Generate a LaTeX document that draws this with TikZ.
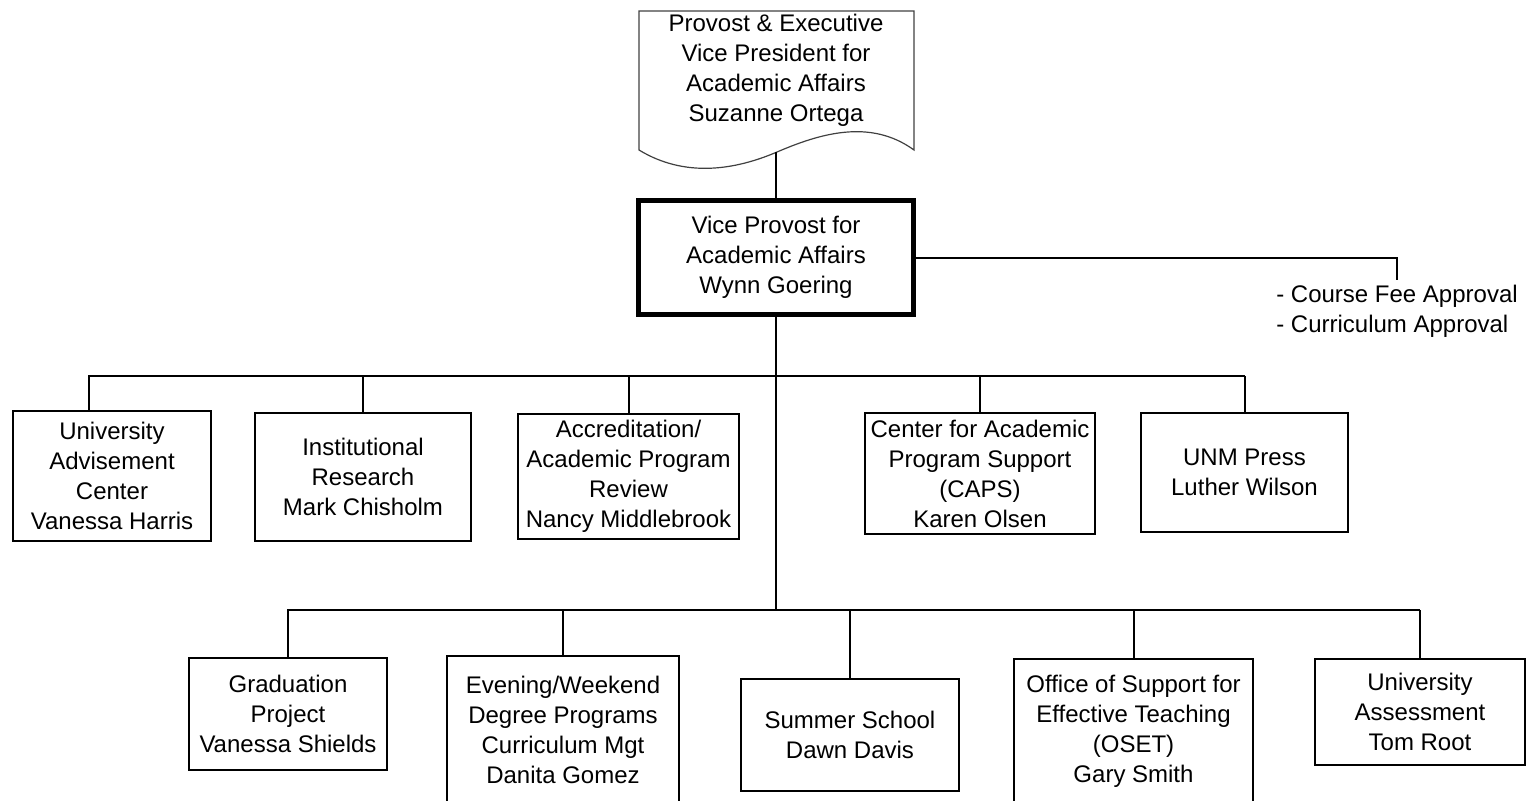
\documentclass[tikz,border=0pt]{standalone}
\usepackage{fontspec}
\setmainfont{Liberation Sans}
\usepackage{tikz}
\usetikzlibrary{positioning,calc}

\begin{document}
\begin{tikzpicture}[
  x=0.5pt,y=-0.5pt,
  unit/.style={draw,line width=1pt,align=center,font=\fontsize{12}{15}\selectfont,inner sep=0pt},
  head/.style={unit,line width=2.5pt},
  note/.style={align=left,font=\fontsize{12}{15}\selectfont,inner sep=2.5pt},
  ln/.style={line width=1pt}
]
\useasboundingbox (0,0) rectangle (1528,800);
\clip (0,0) rectangle (1528,800);
% provost (document shape)
\draw[line width=0.6pt,black!75] (639,150) -- (639,11) -- (914,11) -- (914,150)
  .. controls (870,118) and (819,134) .. (777,152)
  .. controls (735,170) and (685,178) .. (639,150) -- cycle;
\node[unit,draw=none] (prov) at (776,70.5) {Provost \& Executive\\Vice President for\\Academic Affairs\\Suzanne Ortega};
\coordinate (provbot) at (776,152);
\node[head,minimum width=137.5pt,minimum height=57pt] (vpaa) at (776,257.5) {Vice Provost for\\Academic Affairs\\Wynn Goering};
\node[note,anchor=north] (notes) at (1397,280) {- Course Fee Approval\\- Curriculum Approval};
% first row
\node[unit,minimum width=99pt,minimum height=65pt] (uac) at (112,476) {University\\Advisement\\Center\\Vanessa Harris};
\node[unit,minimum width=108pt,minimum height=64pt] (ir) at (363,477) {Institutional\\Research\\Mark Chisholm};
\node[unit,minimum width=110.5pt,minimum height=62.5pt] (acc) at (628.5,476.5) {Accreditation/\\Academic Program\\Review\\Nancy Middlebrook};
\node[unit,minimum width=115pt,minimum height=60.5pt] (caps) at (980,473.5) {Center for Academic\\Program Support\\(CAPS)\\Karen Olsen};
\node[unit,minimum width=103.5pt,minimum height=59.5pt] (unm) at (1244.5,472.5) {UNM Press\\Luther Wilson};
% second row
\node[unit,minimum width=99pt,minimum height=56pt] (grad) at (288,714) {Graduation\\Project\\Vanessa Shields};
\node[unit,minimum width=116pt,minimum height=74pt] (eve) at (563,730) {Evening/Weekend\\Degree Programs\\Curriculum Mgt\\Danita Gomez};
\node[unit,minimum width=109pt,minimum height=56pt] (sum) at (850,735) {Summer School\\Dawn Davis};
\node[unit,minimum width=119.5pt,minimum height=72pt] (oset) at (1133.5,731) {Office of Support for\\Effective Teaching\\(OSET)\\Gary Smith};
\node[unit,minimum width=105pt,minimum height=53pt] (ua) at (1420,712) {University\\Assessment\\Tom Root};
\coordinate (upbus) at (776,376);
\coordinate (lowbus) at (776,610);
% connectors
\draw[ln] (provbot) -- (vpaa.north);
\draw[ln] (vpaa.east) -| (notes.north);
\draw[ln] (vpaa.south) -- (lowbus);
\draw[ln] ([xshift=-11.5pt]uac.north) -- ([xshift=-11.5pt]uac.north |- upbus) -- (unm.north |- upbus);
\foreach \n in {ir,acc,caps,unm} \draw[ln] (\n.north) -- (\n.north |- upbus);
\draw[ln] (grad.north) -- (grad.north |- lowbus) -- (ua.north |- lowbus);
\foreach \n in {eve,sum,oset,ua} \draw[ln] (\n.north) -- (\n.north |- lowbus);
\end{tikzpicture}
\end{document}
